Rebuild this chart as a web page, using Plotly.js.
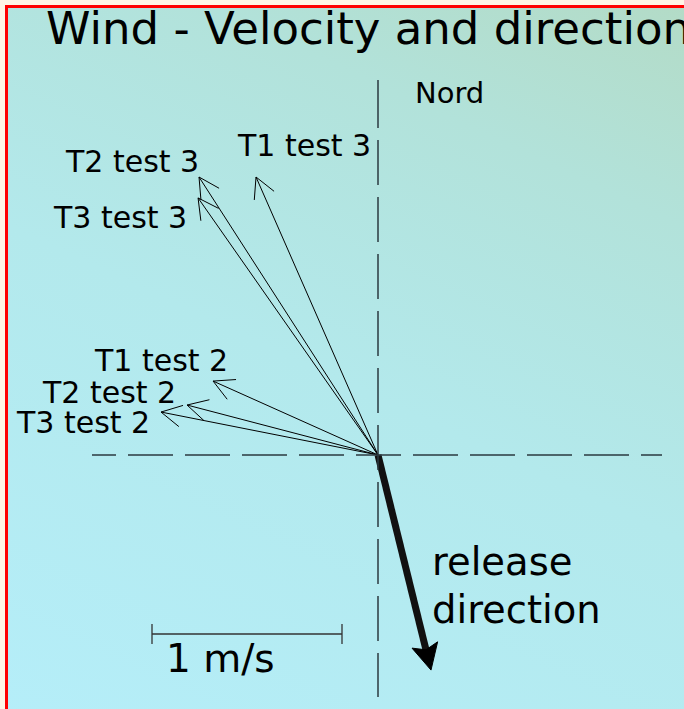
<!DOCTYPE html>
<html>
<head>
<meta charset="utf-8">
<script src="https://cdn.plot.ly/plotly-3.0.1.min.js"></script>
<style>
  html, body { margin:0; padding:0; width:684px; height:709px; overflow:hidden; background:#fff5e6; }
  #bg { position:absolute; left:5px; top:5px; width:700px; height:720px;
        border-left:3px solid #ff0000; border-top:3px solid #ff0000;
        background: linear-gradient(205deg, #b3dbc6 0%, #b2e2da 22%, #b3e9ec 52%, #b5eef9 100%); }
  #chart { position:absolute; left:0; top:0; width:684px; height:709px; }
</style>
</head>
<body>
<div id="bg"></div>
<div id="chart"></div>
<script>
// ---- data (m/s, x = east, y = north) ----
const labels = ['T1 test 3', 'T2 test 3', 'T3 test 3', 'T1 test 2', 'T2 test 2', 'T3 test 2'];
const windX  = [-0.642, -0.942, -0.947, -0.868, -1.005, -1.142];
const windY  = [ 1.463,  1.463,  1.353,  0.389,  0.263,  0.226];
const releaseX = [0.279];
const releaseY = [-1.132];
const scaleLength = [1]; // 1 m/s
const scaleLabel = '1 m/s';
const northLabel = 'Nord';
const releaseLabel = ['release', 'direction'];

// ---- layout geometry ----
const W = 684, H = 709;
const PX = 190;               // pixels per m/s
const OX = 378, OY = 455;     // origin in pixels
const dx = p => (p - OX) / PX;
const dy = p => (OY - p) / PX;

const traces = [];

// wind arrows
const barbLen = 23 / PX, barbAng = 28 * Math.PI / 180;
const ax = [], ay = [];
for (let i = 0; i < windX.length; i++) {
  const vx = windX[i], vy = windY[i];
  const n = Math.hypot(vx, vy);
  const ux = -vx / n, uy = -vy / n;
  const rot = a => [ux * Math.cos(a) - uy * Math.sin(a), ux * Math.sin(a) + uy * Math.cos(a)];
  const r1 = rot(barbAng), r2 = rot(-barbAng);
  ax.push(0, vx, null, vx + barbLen * r1[0], vx, vx + barbLen * r2[0], null);
  ay.push(0, vy, null, vy + barbLen * r1[1], vy, vy + barbLen * r2[1], null);
}
traces.push({type:'scatter', mode:'lines', x:ax, y:ay, line:{color:'#000', width:1}, hoverinfo:'skip', showlegend:false});

// release arrow
{
  const vx = releaseX[0], vy = releaseY[0];
  const n = Math.hypot(vx, vy);
  const ux = -vx / n, uy = -vy / n;
  const hl = 29 / PX, ha = 27 * Math.PI / 180;
  const rot = a => [ux * Math.cos(a) - uy * Math.sin(a), ux * Math.sin(a) + uy * Math.cos(a)];
  const r1 = rot(ha), r2 = rot(-ha);
  const back = hl * 0.7;
  traces.push({type:'scatter', mode:'lines', x:[0, vx + ux * back], y:[0, vy + uy * back],
    line:{color:'#111', width:7}, hoverinfo:'skip', showlegend:false});
  traces.push({type:'scatter', mode:'lines', fill:'toself', fillcolor:'#000',
    x:[vx, vx + hl * r1[0], vx + ux * hl * 0.72, vx + hl * r2[0], vx],
    y:[vy, vy + hl * r1[1], vy + uy * hl * 0.72, vy + hl * r2[1], vy],
    line:{color:'#000', width:1}, hoverinfo:'skip', showlegend:false});
}

// scale bar
{
  const sx0 = dx(152), sy = dy(634), t = 10 / PX;
  const sx1 = sx0 + scaleLength[0];
  traces.push({type:'scatter', mode:'lines',
    x:[sx0, sx1, null, sx0, sx0, null, sx1, sx1],
    y:[sy, sy, null, sy + t, sy - t, null, sy + t, sy - t],
    line:{color:'#333', width:1.3}, hoverinfo:'skip', showlegend:false});
}

// dashed compass axes
let hdash = '24px,12px', vdash = '48px,12px';
for (let k = 0; k < 10; k++) { hdash += ',45px,12px'; vdash += ',45px,12px'; }
const shapes = [
  {type:'line', xref:'x', yref:'y', x0:dx(92), x1:dx(662), y0:0, y1:0, line:{color:'#2b3a40', width:1.5, dash:hdash}},
  {type:'line', xref:'x', yref:'y', x0:0, x1:0, y0:dy(80), y1:dy(697), line:{color:'#2b3a40', width:1.5, dash:vdash}}
];

// labels
const FONT = 'DejaVu Sans';
const labelPos = [[236, 156], [64, 172], [52, 228], [93, 371], [41, 403], [15, 433]];
const annotations = [];
const mk = (text, lx, base, size) => ({
  text, x: dx(lx), y: dy(base - 0.346 * size), xref:'x', yref:'y',
  xanchor:'left', yanchor:'middle', showarrow:false,
  font:{family:FONT, size, color:'#000'}, borderpad:0
});
labels.forEach((t, i) => annotations.push(mk(t, labelPos[i][0], labelPos[i][1], 30)));
annotations.push(mk(northLabel, 414, 103, 29));
annotations.push(mk(releaseLabel[0], 431, 575, 38.5));
annotations.push(mk(releaseLabel[1], 431, 623, 38.5));
annotations.push(mk(scaleLabel, 165, 672, 39));

const layout = {
  width: W, height: H,
  margin: {l:0, r:0, t:0, b:0, pad:0},
  paper_bgcolor: 'rgba(0,0,0,0)', plot_bgcolor: 'rgba(0,0,0,0)',
  title: {text:'Wind - Velocity and direction', x: 46 / W, xref:'container', xanchor:'left',
          y: 1 - (44 - 0.346 * 45) / H, yref:'container', yanchor:'middle',
          font:{family:FONT, size:45, color:'#000'}},
  xaxis: {range:[dx(0), dx(W)], visible:false, fixedrange:true},
  yaxis: {range:[dy(H), dy(0)], visible:false, fixedrange:true},
  shapes, annotations, showlegend:false
};

Plotly.newPlot('chart', traces, layout, {staticPlot:true, displayModeBar:false});
</script>
</body>
</html>
